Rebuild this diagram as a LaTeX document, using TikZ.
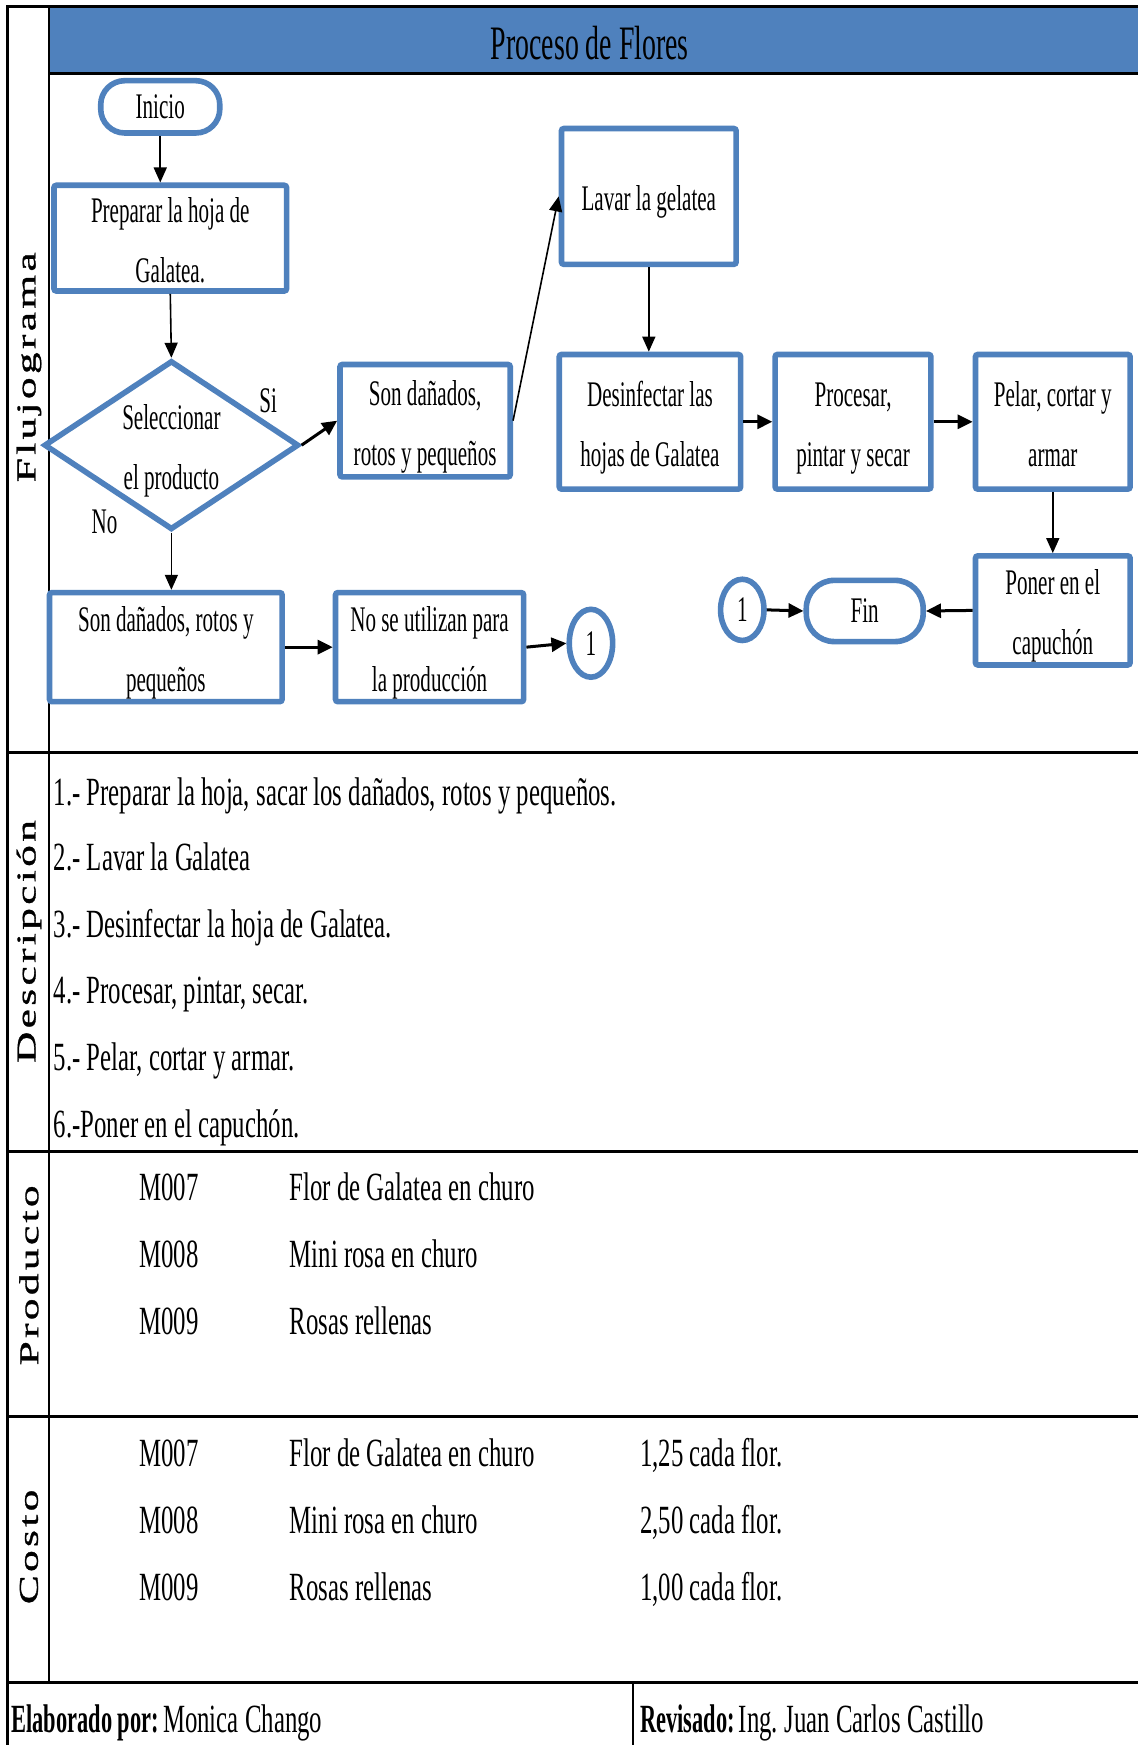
\documentclass[tikz,border=0pt]{standalone}
\usepackage{fontspec}
\setmainfont{Liberation Serif}
\newfontfamily\condf[FakeStretch=0.62]{Liberation Serif}
\newfontfamily\boxf[FakeStretch=0.585]{Liberation Serif}
\newfontfamily\titlef[FakeStretch=0.58]{Liberation Serif}
\newfontfamily\boldf[FakeStretch=0.56]{Liberation Serif}
\newfontfamily\widef[FakeStretch=1.6,LetterSpace=12,FakeBold=1.2]{Liberation Serif}
\usetikzlibrary{shapes.geometric,arrows.meta}
\definecolor{fblue}{HTML}{4F81BD}
\newcommand\upx{0.55625pt}
\newcommand\tup{\rule{0pt}{18.4pt}}
\newcommand\tdn{\rule[-4pt]{0pt}{4pt}}
\begin{document}
\begin{tikzpicture}[x=0.55625pt,y=-0.55625pt,
  txt/.style={font=\boxf\fontsize{18}{30}\selectfont, inner sep=0pt, align=center},
  box/.style={txt, draw=fblue, line width=2.8pt, rounded corners=1.2pt, fill=white},
  bx/.style 2 args={minimum width=#1*\upx, minimum height=#2*\upx},
  term/.style={txt, draw=fblue, line width=2.8pt, fill=white, rounded corners=12pt},
  conn/.style={txt, draw=fblue, line width=2.8pt, ellipse, fill=white},
  decision/.style={txt, draw=fblue, line width=2.8pt, diamond, aspect=1.55, inner sep=-6pt, fill=white},
  arr/.style={line width=0.8pt, -{Triangle[length=7.5pt,width=6.5pt]}},
  arrb/.style={line width=1.5pt, -{Triangle[length=7.5pt,width=7pt]}},
  rule/.style={line width=1.6pt},
  side/.style={rotate=90, inner sep=0pt, font=\widef\fontsize{13.6}{16}\selectfont},
  body/.style={anchor=base west, inner sep=0pt, font=\condf\fontsize{20}{24}\selectfont},
]
\useasboundingbox (0,0) rectangle (1022,1568);
\fill[white] (0,0) rectangle (1022,1568);
% header
\fill[fblue] (44,6) rectangle (1040,66);
\node[inner sep=0pt, font=\titlef\fontsize{24}{28}\selectfont] (title) at (530,39) {Proceso de Flores};
% frame and rules
\draw[rule] (7,1600) -- (7,6) -- (1040,6);
\draw[line width=1.2pt] (44,6) -- (44,1512);
\draw[rule] (44,66) -- (1040,66);
\draw[rule] (7,676) -- (1040,676);
\draw[rule] (7,1035) -- (1040,1035);
\draw[rule] (7,1273) -- (1040,1273);
\draw[rule] (7,1512) -- (1040,1512);
\draw[line width=1pt] (569,1512) -- (569,1600);
% side labels
\node[side] (s1) at (26,330) {Flujograma};
\node[side] (s2) at (26,846) {Descripción};
\node[side] (s3) at (26,1146) {Producto};
\node[side] (s4) at (26,1390) {Costo};
% flowchart nodes
\node[term, bx={107}{47}] (inicio) at (144,96) {Inicio};
\node[box, bx={209}{95}] (prep) at (153,214) {\tup Preparar la hoja de\\Galatea.\tdn};
\node[decision, bx={229}{152}] (dia) at (154,400) {\tup Seleccionar\\el producto\tdn};
\node[txt] (lsi) at (241,360) {Si};
\node[txt] (lno) at (94,469) {No};
\node[box, bx={153}{101}] (son) at (382,378) {\tup Son dañados,\\rotos y pequeños\tdn};
\node[box, bx={157}{122}] (lavar) at (583,176.5) {\tup Lavar la gelatea\tdn};
\node[box, bx={163}{121}] (desinf) at (584,379) {\tup Desinfectar las\\hojas de Galatea\tdn};
\node[box, bx={140}{121}] (proc) at (766.5,379) {\tup Procesar,\\pintar y secar\tdn};
\node[box, bx={139}{121}] (pelar) at (946,379) {\tup Pelar, cortar y\\armar\tdn};
\node[box, bx={139}{98}] (poner) at (946,548.5) {\tup Poner en el\\capuchón\tdn};
\node[term, rounded corners=14pt, bx={105}{55}] (fin) at (777,549) {Fin};
\node[conn, bx={39}{55}] (c1r) at (667,548) {1};
\node[box, bx={209}{98}] (sonb) at (149,581.5) {\tup Son dañados, rotos y\\pequeños\tdn};
\node[box, bx={169}{98}] (nose) at (386,581.5) {\tup No se utilizan para\\la producción\tdn};
\node[conn, bx={39}{61}] (c1l) at (531,578) {1};
% connectors
\draw[arr] (inicio.south) -- (inicio.south |- prep.north);
\draw[arr] (prep.south) -- (dia.north);
\draw[arrb] (dia.east) -- (son.west);
\draw[arr] (son.east) -- (lavar.west);
\draw[arr] (lavar.south) -- (lavar.south |- desinf.north);
\draw[arrb] (desinf.east) -- (proc.west);
\draw[arrb] (proc.east) -- (pelar.west);
\draw[arr] (pelar.south) -- (poner.north);
\draw[arrb] (poner.west) -- (fin.east);
\draw[arrb] (c1r.east) -- (fin.west);
\draw[arr] (dia.south) -- (dia.south |- sonb.north);
\draw[arrb] (sonb.east) -- (nose.west);
\draw[arrb] (nose.east) -- (c1l.west);
% description
\node[body] (d1) at (48,724) {1.- Preparar la hoja, sacar los dañados, rotos y pequeños.};
\node[body] (d2) at (48,782) {2.- Lavar la Galatea};
\node[body] (d3) at (48,842) {3.- Desinfectar la hoja de Galatea.};
\node[body] (d4) at (48,902) {4.- Procesar, pintar, secar.};
\node[body] (d5) at (48,962) {5.- Pelar, cortar y armar.};
\node[body] (d6) at (48,1022) {6.-Poner en el capuchón.};
% producto
\node[body] (p1c) at (125,1079) {M007};
\node[body] (p1n) at (260,1079) {Flor de Galatea en churo};
\node[body] (p2c) at (125,1139) {M008};
\node[body] (p2n) at (260,1139) {Mini rosa en churo};
\node[body] (p3c) at (125,1199) {M009};
\node[body] (p3n) at (260,1199) {Rosas rellenas};
% costo
\node[body] (k1c) at (125,1318) {M007};
\node[body] (k1n) at (260,1318) {Flor de Galatea en churo};
\node[body] (k1p) at (575,1318) {1,25 cada flor.};
\node[body] (k2c) at (125,1378) {M008};
\node[body] (k2n) at (260,1378) {Mini rosa en churo};
\node[body] (k2p) at (575,1378) {2,50 cada flor.};
\node[body] (k3c) at (125,1438) {M009};
\node[body] (k3n) at (260,1438) {Rosas rellenas};
\node[body] (k3p) at (575,1438) {1,00 cada flor.};
% footer
\node[body] (f1) at (10,1557) {{\boldf\bfseries Elaborado por:}\hspace{2pt}Monica Chango};
\node[body] (f2) at (575,1557) {{\boldf\bfseries Revisado:}\hspace{2pt}Ing.\ Juan Carlos Castillo};
\end{tikzpicture}
\end{document}
